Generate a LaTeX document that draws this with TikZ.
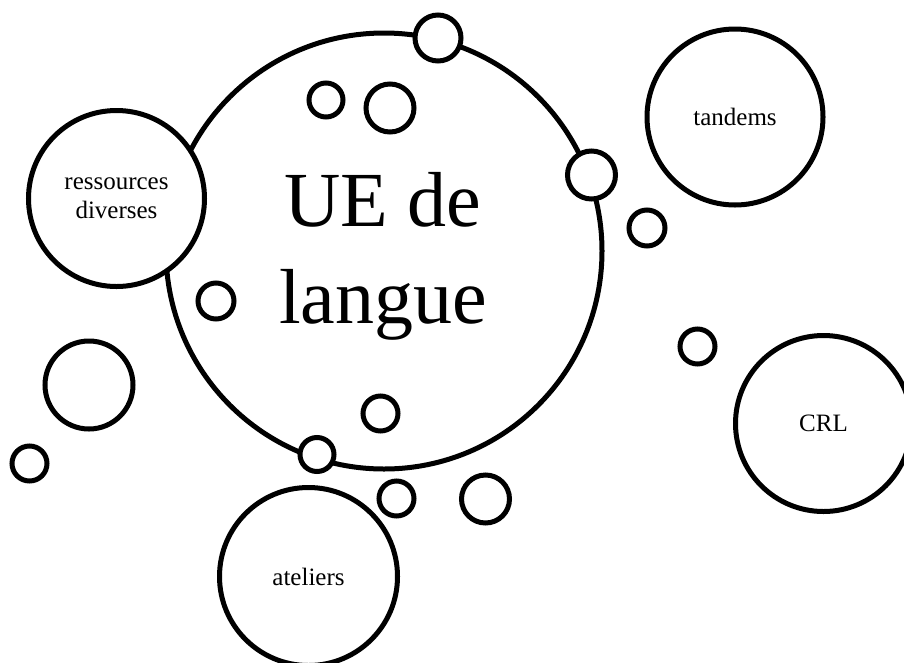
\documentclass[tikz,border=0pt]{standalone}
\usepackage{fontspec}
\setmainfont{Liberation Serif}
\usetikzlibrary{positioning}
\tikzset
{
    ring/.style   = {circle, draw=black, line width=5pt, inner sep=0pt, minimum size=#1},
    bubble/.style = {circle, draw=black, fill=white, line width=5pt, inner sep=0pt, align=center, minimum size=#1, font=\fontsize{25}{29}\selectfont},
    dot/.style    = {circle, draw=black, fill=white, line width=5pt, inner sep=0pt, minimum size=#1}
}

\begin{document}
\begin{tikzpicture}[x=1pt, y=-1pt]
\useasboundingbox (0,0) rectangle (904,662);
\clip (0,0) rectangle (904,662);
% main unit
\node(ue) [ring=436pt] at (384,251) {};
\node(uetext) [align=center, inner sep=0pt, font=\fontsize{78}{97}\selectfont] at (383,256) {UE de\\langue};
% big satellites
\node(res) [bubble=176pt] at (116.5,198.5) {ressources\\diverses};
\node(tan) [bubble=176pt] at (735,117) {tandems};
\node(crl) [bubble=176pt] at (823.5,423.5) {CRL};
\node(ate) [bubble=178pt] at (308.5,576.5) {ateliers};
% small bubbles
\node(d1) [dot=46pt] at (438,38) {};
\node(d2) [dot=34pt] at (326,100) {};
\node(d3) [dot=48pt] at (390,108) {};
\node(d4) [dot=48pt] at (591.5,175) {};
\node(d5) [dot=36pt] at (647,228) {};
\node(d6) [dot=36pt] at (216,301) {};
\node(d7) [dot=35pt] at (697.5,346.5) {};
\node(d8) [dot=88pt] at (89,385) {};
\node(d9) [dot=35pt] at (380.5,413.5) {};
\node(d10) [dot=34pt] at (317,454.5) {};
\node(d11) [dot=35pt] at (29.5,463.5) {};
\node(d12) [dot=35pt] at (396.5,498.5) {};
\node(d13) [dot=48pt] at (485.5,499) {};
\end{tikzpicture}
\end{document}
